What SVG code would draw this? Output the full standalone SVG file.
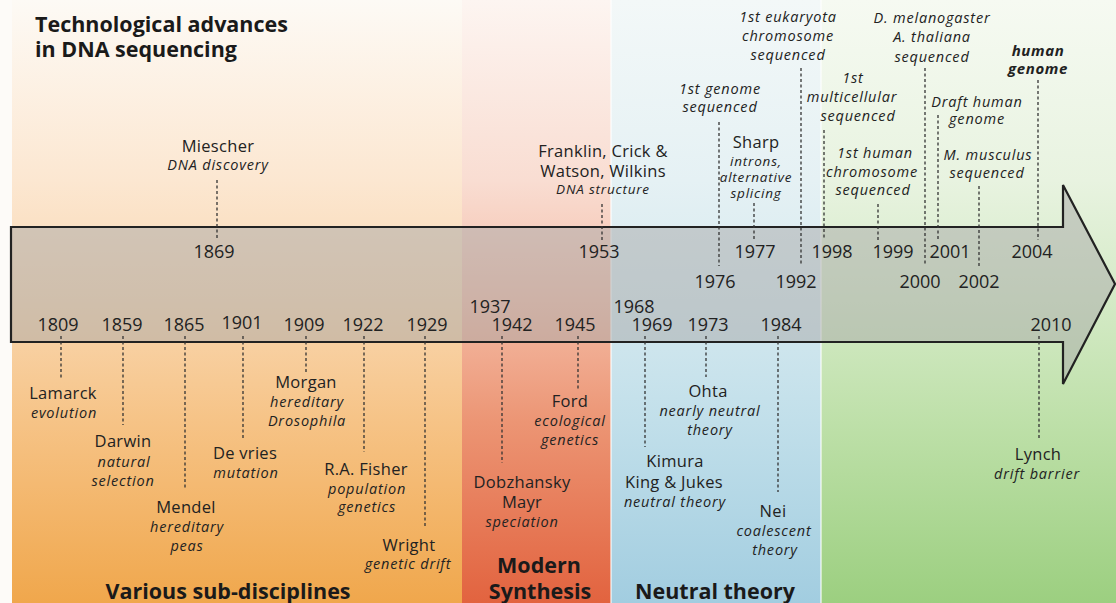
<svg xmlns="http://www.w3.org/2000/svg" width="1116" height="603" viewBox="0 0 1116 603">
<defs>
<linearGradient id="gO" x1="0" y1="0" x2="0" y2="1">
<stop offset="0" stop-color="#fdfaf5"/><stop offset="0.3" stop-color="#fce7d1"/><stop offset="0.5" stop-color="#f9d7b0"/><stop offset="0.7" stop-color="#f6c386"/><stop offset="1" stop-color="#f0a74c"/>
</linearGradient>
<linearGradient id="gR" x1="0" y1="0" x2="0" y2="1">
<stop offset="0" stop-color="#fdf5f1"/><stop offset="0.3" stop-color="#f9ddd2"/><stop offset="0.5" stop-color="#f4bca6"/><stop offset="0.7" stop-color="#ec9574"/><stop offset="1" stop-color="#e2633f"/>
</linearGradient>
<linearGradient id="gB" x1="0" y1="0" x2="0" y2="1">
<stop offset="0" stop-color="#f3f8f8"/><stop offset="0.3" stop-color="#e5f1f4"/><stop offset="0.5" stop-color="#d5e9ef"/><stop offset="0.7" stop-color="#c1dfea"/><stop offset="1" stop-color="#a2cde0"/>
</linearGradient>
<linearGradient id="gG" x1="0" y1="0" x2="0" y2="1">
<stop offset="0" stop-color="#f6faf2"/><stop offset="0.3" stop-color="#e8f3e0"/><stop offset="0.5" stop-color="#d4eac6"/><stop offset="0.7" stop-color="#bee0a9"/><stop offset="1" stop-color="#9ccf80"/>
</linearGradient>
</defs>
<style>
text { font-family: "Open Sans", "Noto Sans", sans-serif; fill: #222; text-anchor: middle; }
.n { font-size: 16.5px; letter-spacing: 0.3px; }
.i { font-size: 14.5px; font-style: italic; letter-spacing: 0.8px; }
.s { font-size: 13.5px; font-style: italic; letter-spacing: 0.8px; }
.y { font-size: 18px; }
.t { font-size: 21.5px; font-weight: bold; text-anchor: start; fill: #1a1a1a; }
.b { font-size: 21.5px; font-weight: bold; fill: #1a1a1a; }
.hb { font-size: 15px; font-weight: bold; font-style: italic; letter-spacing: 0.6px; }
#connectors line { stroke: #333; stroke-width: 1.3; stroke-dasharray: 3 2.5; }
.sep { stroke: #ffffff; stroke-opacity: 0.55; stroke-width: 2; }
</style>

<g id="background">
<rect x="0" y="0" width="1116" height="603" fill="#fdfbf8"/>
<rect x="12" y="0" width="450" height="603" fill="url(#gO)"/>
<rect x="462" y="0" width="149" height="603" fill="url(#gR)"/>
<rect x="611" y="0" width="210" height="603" fill="url(#gB)"/>
<rect x="821" y="0" width="295" height="603" fill="url(#gG)"/>
<line class="sep" x1="611" y1="0" x2="611" y2="603"/>
<line class="sep" x1="821" y1="0" x2="821" y2="603"/>
</g>

<g id="title">
<text class="t" x="35" y="32">Technological advances</text>
<text class="t" x="35" y="57">in DNA sequencing</text>
</g>

<g id="timeline-arrow">
<path d="M11,227 H1063 V185 L1115,284 L1063,384 V342 H11 Z" fill="#a8a8a8" fill-opacity="0.5" stroke="#222" stroke-width="2.2" stroke-linejoin="miter"/>
</g>

<g id="connectors">
<line x1="217" y1="180" x2="217" y2="240"/>
<line x1="602" y1="204" x2="602" y2="240"/>
<line x1="719" y1="122" x2="719" y2="266"/>
<line x1="754" y1="203" x2="754" y2="240"/>
<line x1="801" y1="68" x2="801" y2="266"/>
<line x1="824" y1="130" x2="824" y2="240"/>
<line x1="878" y1="204" x2="878" y2="240"/>
<line x1="925" y1="68" x2="925" y2="266"/>
<line x1="938" y1="115" x2="938" y2="240"/>
<line x1="979" y1="186" x2="979" y2="266"/>
<line x1="1038" y1="80" x2="1038" y2="240"/>
<line x1="61" y1="336" x2="61" y2="378"/>
<line x1="123" y1="336" x2="123" y2="425"/>
<line x1="185" y1="336" x2="185" y2="490"/>
<line x1="243" y1="336" x2="243" y2="438"/>
<line x1="306" y1="336" x2="306" y2="372"/>
<line x1="364" y1="336" x2="364" y2="452"/>
<line x1="425" y1="336" x2="425" y2="527"/>
<line x1="502" y1="336" x2="502" y2="463"/>
<line x1="578" y1="336" x2="578" y2="390"/>
<line x1="645" y1="336" x2="645" y2="447"/>
<line x1="706" y1="336" x2="706" y2="377"/>
<line x1="778" y1="336" x2="778" y2="492"/>
<line x1="1039" y1="336" x2="1039" y2="440"/>
</g>

<g id="miescher">
<text class="n" x="218" y="152">Miescher</text>
<text class="i" x="218" y="170">DNA discovery</text>
<text class="y" x="214" y="258">1869</text>
</g>
<g id="franklin">
<text class="n" x="603" y="157">Franklin, Crick &amp;</text>
<text class="n" x="603" y="177">Watson, Wilkins</text>
<text class="s" x="603" y="194">DNA structure</text>
<text class="y" x="599" y="258">1953</text>
</g>
<g id="first-genome">
<text class="i" x="720" y="94">1st genome</text>
<text class="i" x="720" y="112">sequenced</text>
<text class="y" x="715" y="288">1976</text>
</g>
<g id="sharp">
<text class="n" x="756" y="148">Sharp</text>
<text class="s" x="756" y="166">introns,</text>
<text class="s" x="756" y="182">alternative</text>
<text class="s" x="756" y="198">splicing</text>
<text class="y" x="755" y="258">1977</text>
</g>
<g id="eukaryota">
<text class="i" x="788" y="22">1st eukaryota</text>
<text class="i" x="788" y="41">chromosome</text>
<text class="i" x="788" y="60">sequenced</text>
<text class="y" x="796" y="288">1992</text>
</g>
<g id="multicellular">
<text class="i" x="853" y="83">1st</text>
<text class="i" x="852" y="102">multicellular</text>
<text class="i" x="858" y="121">sequenced</text>
<text class="y" x="832" y="258">1998</text>
</g>
<g id="human-chromosome">
<text class="i" x="875" y="158">1st human</text>
<text class="i" x="872" y="177">chromosome</text>
<text class="i" x="873" y="195">sequenced</text>
<text class="y" x="893" y="258">1999</text>
</g>
<g id="melanogaster">
<text class="i" x="932" y="23">D. melanogaster</text>
<text class="i" x="932" y="42">A. thaliana</text>
<text class="i" x="932" y="62">sequenced</text>
<text class="y" x="920" y="288">2000</text>
</g>
<g id="draft-human">
<text class="i" x="977" y="107">Draft human</text>
<text class="i" x="977" y="124">genome</text>
<text class="y" x="950" y="258">2001</text>
</g>
<g id="musculus">
<text class="i" x="988" y="160">M. musculus</text>
<text class="i" x="987" y="178">sequenced</text>
<text class="y" x="979" y="288">2002</text>
</g>
<g id="human-genome">
<text class="hb" x="1038" y="56">human</text>
<text class="hb" x="1038" y="74">genome</text>
<text class="y" x="1032" y="258">2004</text>
</g>

<g id="lamarck">
<text class="y" x="58" y="331">1809</text>
<text class="n" x="63" y="399">Lamarck</text>
<text class="i" x="64" y="418">evolution</text>
</g>
<g id="darwin">
<text class="y" x="122" y="331">1859</text>
<text class="n" x="123" y="447">Darwin</text>
<text class="i" x="124" y="467">natural</text>
<text class="i" x="123" y="486">selection</text>
</g>
<g id="mendel">
<text class="y" x="184" y="331">1865</text>
<text class="n" x="186" y="513">Mendel</text>
<text class="i" x="187" y="532">hereditary</text>
<text class="i" x="187" y="551">peas</text>
</g>
<g id="devries">
<text class="y" x="242" y="329">1901</text>
<text class="n" x="245" y="459">De vries</text>
<text class="i" x="246" y="478">mutation</text>
</g>
<g id="morgan">
<text class="y" x="304" y="331">1909</text>
<text class="n" x="306" y="388">Morgan</text>
<text class="i" x="307" y="407">hereditary</text>
<text class="i" x="307" y="426">Drosophila</text>
</g>
<g id="fisher">
<text class="y" x="363" y="331">1922</text>
<text class="n" x="366" y="475">R.A. Fisher</text>
<text class="i" x="367" y="494">population</text>
<text class="i" x="367" y="512">genetics</text>
</g>
<g id="wright">
<text class="y" x="427" y="331">1929</text>
<text class="n" x="409" y="551">Wright</text>
<text class="i" x="408" y="569">genetic drift</text>
</g>
<g id="dobzhansky-mayr">
<text class="y" x="490" y="313">1937</text>
<text class="y" x="512" y="331">1942</text>
<text class="n" x="522" y="488">Dobzhansky</text>
<text class="n" x="522" y="508">Mayr</text>
<text class="i" x="522" y="527">speciation</text>
</g>
<g id="ford">
<text class="y" x="575" y="331">1945</text>
<text class="n" x="570" y="407">Ford</text>
<text class="i" x="570" y="426">ecological</text>
<text class="i" x="570" y="445">genetics</text>
</g>
<g id="kimura">
<text class="y" x="634" y="313">1968</text>
<text class="y" x="652" y="331">1969</text>
<text class="n" x="675" y="467">Kimura</text>
<text class="n" x="674" y="488">King &amp; Jukes</text>
<text class="i" x="675" y="507">neutral theory</text>
</g>
<g id="ohta">
<text class="y" x="708" y="331">1973</text>
<text class="n" x="708" y="397">Ohta</text>
<text class="i" x="710" y="416">nearly neutral</text>
<text class="i" x="710" y="435">theory</text>
</g>
<g id="nei">
<text class="y" x="781" y="331">1984</text>
<text class="n" x="773" y="517">Nei</text>
<text class="i" x="774" y="536">coalescent</text>
<text class="i" x="775" y="555">theory</text>
</g>
<g id="lynch">
<text class="y" x="1051" y="331">2010</text>
<text class="n" x="1038" y="460">Lynch</text>
<text class="i" x="1037" y="479">drift barrier</text>
</g>

<g id="band-labels">
<text class="b" x="228" y="599">Various sub-disciplines</text>
<text class="b" x="539" y="573">Modern</text>
<text class="b" x="540" y="599">Synthesis</text>
<text class="b" x="715" y="599">Neutral theory</text>
</g>
</svg>
